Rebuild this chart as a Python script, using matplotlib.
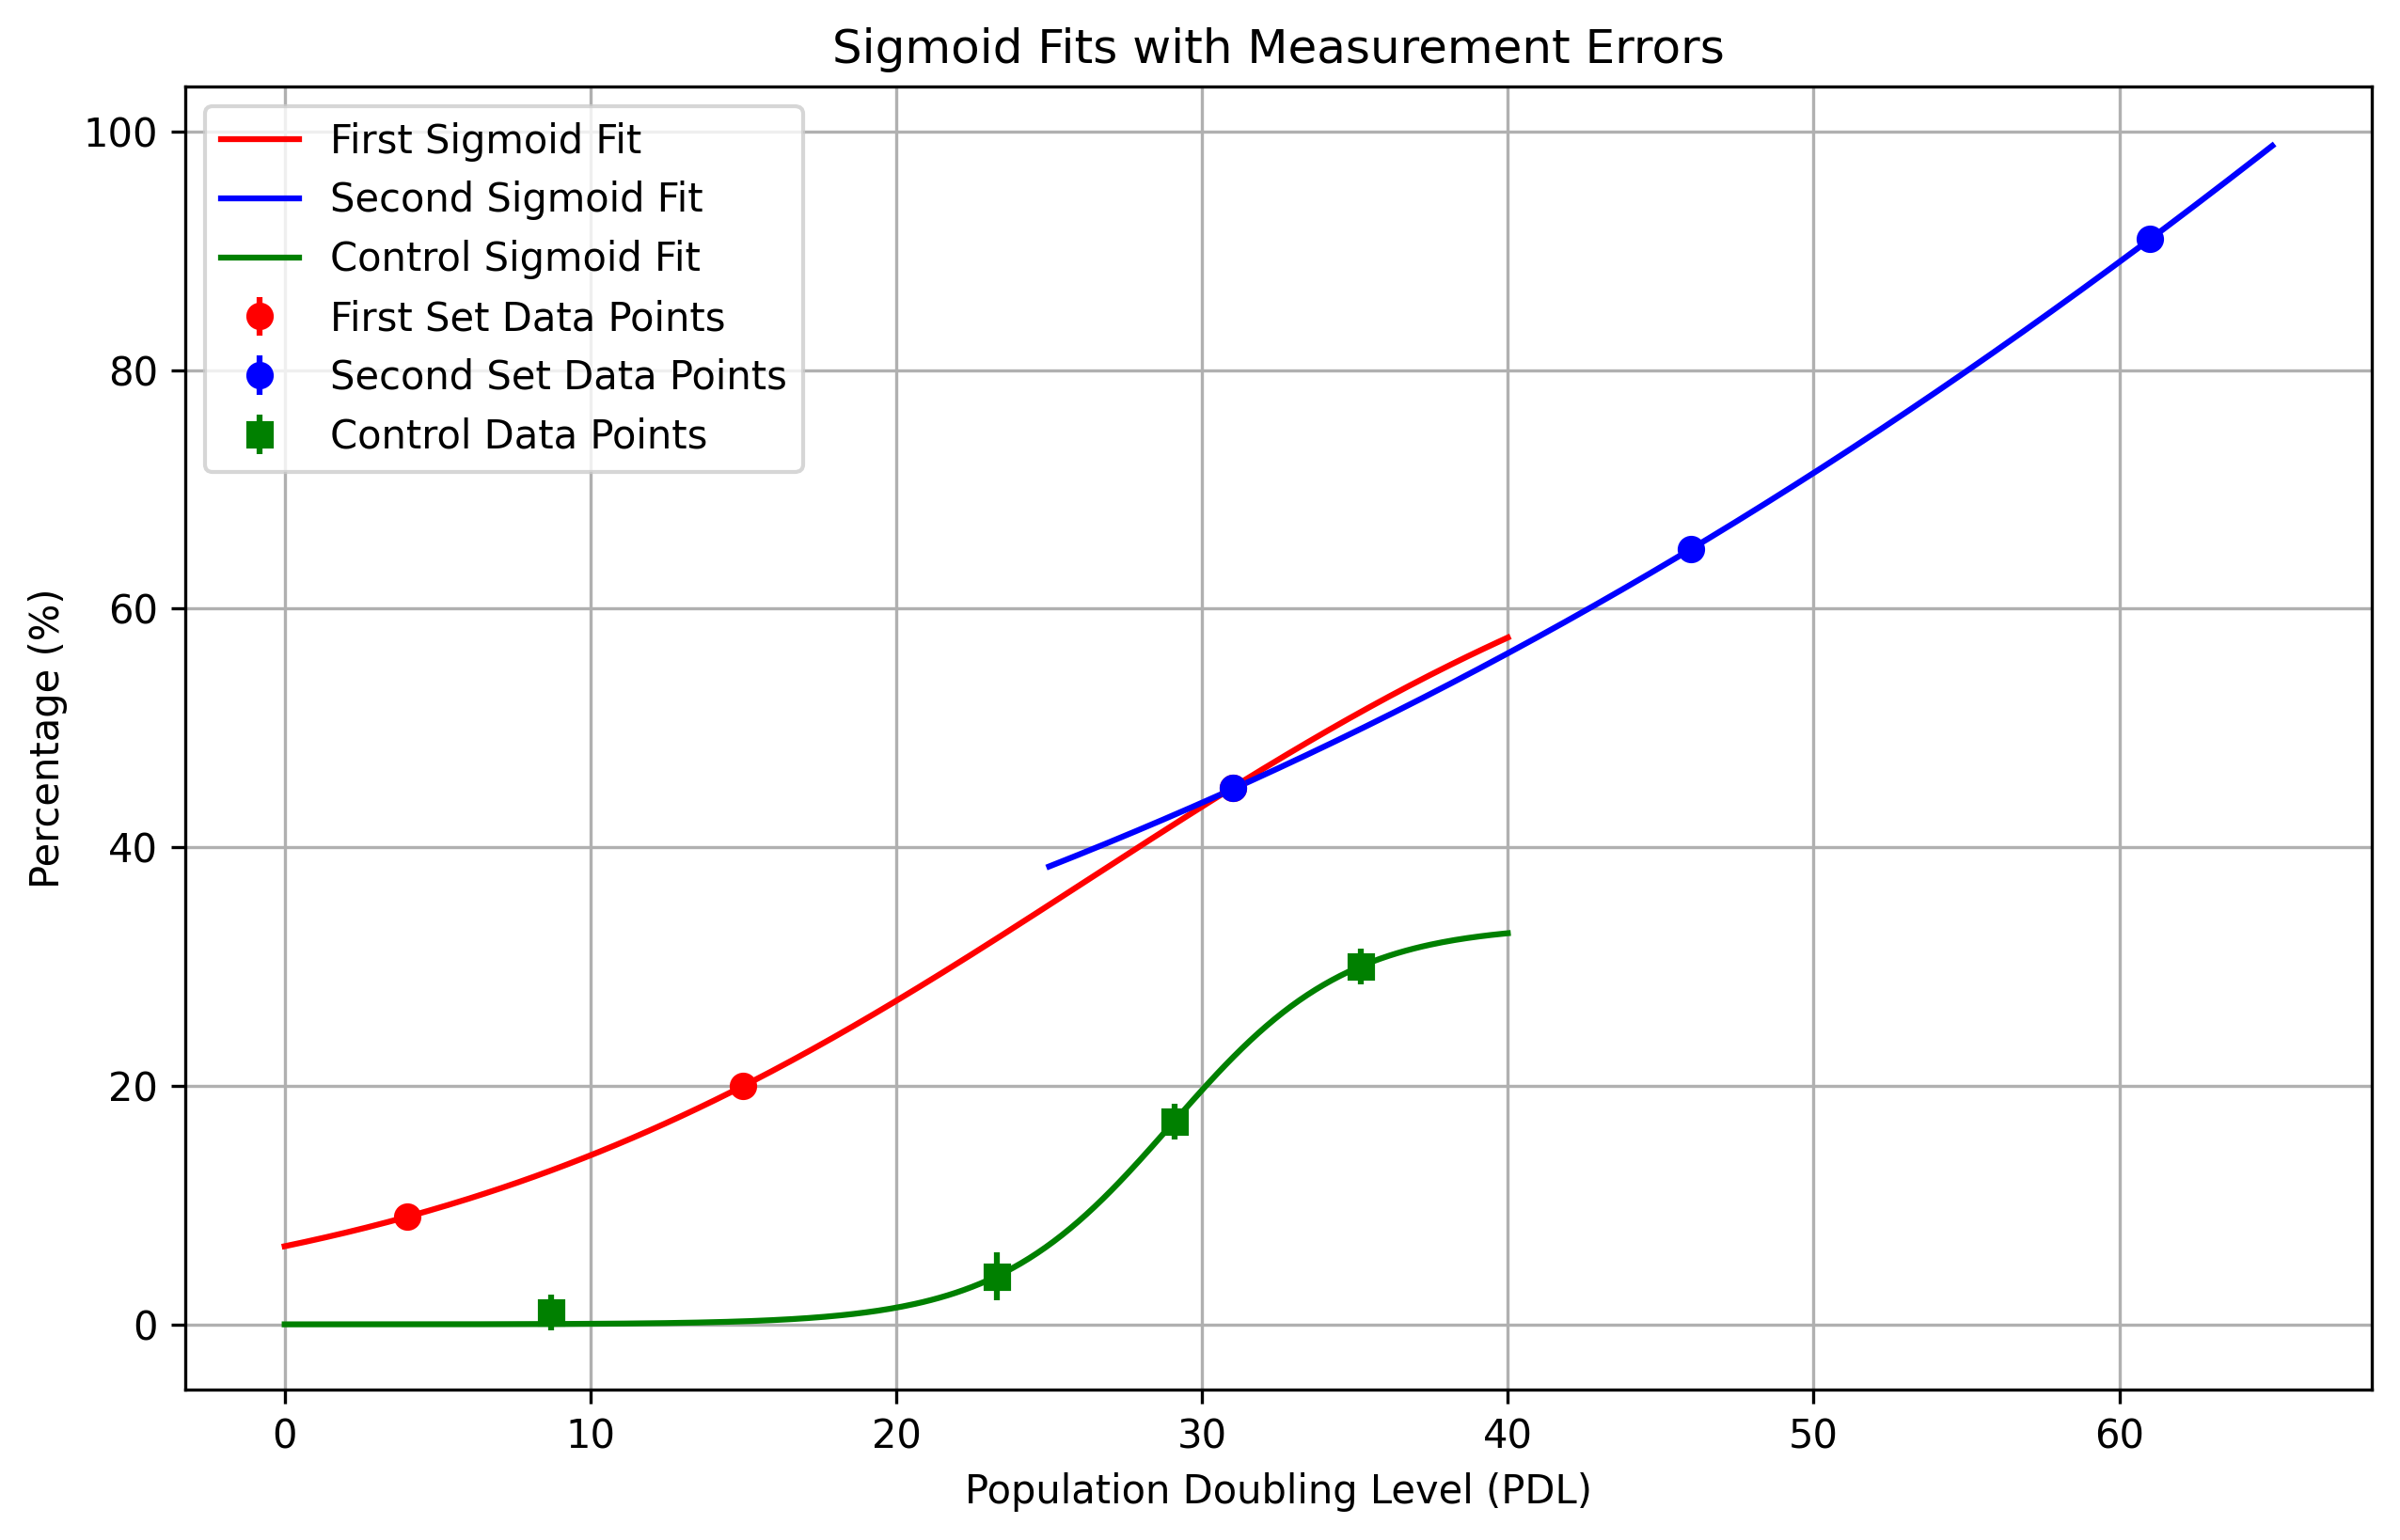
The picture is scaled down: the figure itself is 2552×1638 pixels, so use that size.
import numpy as np
import matplotlib
matplotlib.use("Agg")
import matplotlib.pyplot as plt

# measured points (PDL, percentage, error)
first_pdl = [4, 15, 31]
first_pct = [9, 20, 45]
first_err = [1, 1, 1]

second_pdl = [31, 46, 61]
second_pct = [45, 65, 91]
second_err = [1, 1, 1]

control_pdl = [8.7, 23.3, 29.1, 35.2]
control_pct = [1, 4, 17, 30]
control_err = [1.5, 2, 1.5, 1.5]

# fitted sigmoid parameters: L, k, x0
first_fit = [74.5, 0.0891, 26.26]
second_fit = [300.0, 0.0302, 88.55]
control_fit = [33.5, 0.348, 29.0]

# ranges over which each fit is drawn
first_range = [0, 40]
second_range = [25, 65]
control_range = [0, 40]


def sigmoid(x, L, k, x0):
    return L / (1 + np.exp(-k * (x - x0)))


fig = plt.figure(figsize=(2552 / 300, 1638 / 300), dpi=300)
ax = fig.add_axes([0.0772, 0.0977, 0.9110, 0.8461])

x1 = np.linspace(*first_range, 300)
x2 = np.linspace(*second_range, 300)
x3 = np.linspace(*control_range, 300)

ax.plot(x1, sigmoid(x1, *first_fit), color='red', label='First Sigmoid Fit')
ax.plot(x2, sigmoid(x2, *second_fit), color='blue', label='Second Sigmoid Fit')
ax.plot(x3, sigmoid(x3, *control_fit), color='green', label='Control Sigmoid Fit')

ax.errorbar(first_pdl, first_pct, yerr=first_err, fmt='o', color='red',
            label='First Set Data Points')
ax.errorbar(second_pdl, second_pct, yerr=second_err, fmt='o', color='blue',
            label='Second Set Data Points')
ax.errorbar(control_pdl, control_pct, yerr=control_err, fmt='s', color='green',
            label='Control Data Points')

ax.set_title('Sigmoid Fits with Measurement Errors')
ax.set_xlabel('Population Doubling Level (PDL)')
ax.set_ylabel('Percentage (%)')
ax.legend(loc='upper left')
ax.grid(True)

fig.savefig('out.png', dpi=300)
